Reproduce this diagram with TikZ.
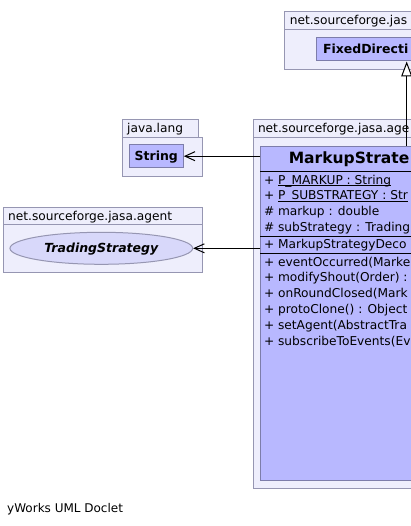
\documentclass[tikz,border=0pt]{standalone}
\usepackage{fontspec}
\setmainfont{DejaVu Sans}
\usepackage{tikz}
\usetikzlibrary{arrows.meta, shapes.geometric, positioning, calc}

\definecolor{pkgfill}{RGB}{238,238,252}
\definecolor{pkgline}{RGB}{150,150,178}
\definecolor{clsfill}{RGB}{184,184,255}
\definecolor{clsline}{RGB}{125,125,170}
\definecolor{ifcfill}{RGB}{216,216,250}

\newcommand{\pkgfont}{\fontsize{12.2}{14}\selectfont}
\newcommand{\memfont}{\fontsize{12.2}{14}\selectfont}
\newcommand{\clsfont}{\fontsize{12.5}{15}\selectfont\bfseries}
\newcommand{\staticfield}[1]{\setbox0\hbox{#1}\rlap{\vrule height -1.1pt depth 2.1pt width \wd0}\box0}

\begin{document}
\begin{tikzpicture}[x=1pt, y=-1pt,
    pkgtab/.style={draw=pkgline, fill=pkgfill, line width=1pt, anchor=north west,
      inner xsep=5pt, inner ysep=2.5pt, text height=10.5pt, text depth=1.9pt, align=left, font=\pkgfont},
    pkgbody/.style={draw=pkgline, fill=pkgfill, line width=1pt, anchor=north west, inner sep=0pt},
    clsbox/.style={draw=clsline, fill=clsfill, line width=1pt, inner sep=0pt, font=\clsfont,
      text height=9.1pt, text depth=0pt},
    member/.style={anchor=base west, inner sep=0pt, font=\memfont},
    sep/.style={line width=1pt},
    uses/.style={line width=1pt, -{Straight Barb[length=10pt, width=9pt]}},
    extends/.style={line width=1pt, -{Triangle[open, fill=white, length=15pt, width=11pt]}}
  ]
    \useasboundingbox (0,0) rectangle (411,526);
    \clip (0,0) rectangle (411,526);

    % Define the points for easier reference
    \coordinate (genx) at (406.7,0);
    \coordinate (sepa) at (0,171.7);
    \coordinate (sepb) at (0,236.7);
    \coordinate (sepc) at (0,253.3);

    % Packages: body first, then the tab with its name
    \node[pkgbody, minimum width=200pt, minimum height=40.2pt] (toppkg) at (284.3,28.8) {};
    \node[pkgtab, text width=190pt] (toptab) at (284.3,11.4) {net.sourceforge.jas};
    \node[pkgbody, minimum width=79.8pt, minimum height=39.5pt] (langpkg) at (121.7,136.7) {};
    \node[pkgtab, text width=66.6pt] (langtab) at (121.7,119.3) {java.lang};
    \node[pkgbody, minimum width=198.8pt, minimum height=48pt] (agentpkg) at (2.7,224.3) {};
    \node[pkgtab, text width=188.8pt] (agenttab) at (2.7,206.9) {net.sourceforge.jasa.agent};
    \node[pkgbody, minimum width=320pt, minimum height=351.3pt] (decpkg) at (252.5,136.7) {};
    \node[pkgtab, text width=310pt] (dectab) at (252.5,119.3) {net.sourceforge.jasa.age};

    % Classes
    \node[clsbox, anchor=north west, minimum width=200pt, minimum height=23.2pt,
      text width=187pt, inner xsep=6.5pt, align=left] (fixed) at (316,37.3) {FixedDirecti};
    \node[clsbox, minimum width=54pt, minimum height=22.4pt] (string) at (156.3,156.2) {String};
    \node[clsbox, ellipse, draw=pkgline, fill=ifcfill, minimum width=182.7pt, minimum height=32pt,
      font=\clsfont\itshape] (trading) at (101.3,248.3) {TradingStrategy};
    \node[clsbox, anchor=north west, minimum width=288pt, minimum height=334.3pt] (decorator) at (260,145.7) {};
    \node[anchor=base west, inner sep=0pt, font=\fontsize{15.5}{18}\selectfont\bfseries] (decname)
      at (288.6,163.5) {MarkupStrate};

    % Compartments of the decorator
    \draw[sep] (decorator.west |- sepa) -- (decorator.east |- sepa);
    \node[member] (f1) at (263.8,184.4) {+ \staticfield{P\_MARKUP : String}};
    \node[member] (f2) at (263.8,199.9) {+ \staticfield{P\_SUBSTRATEGY : Str}};
    \node[member] (f3) at (263.8,215.5) {\# markup : double};
    \node[member] (f4) at (263.8,231.0) {\# subStrategy : Trading};
    \draw[sep] (decorator.west |- sepb) -- (decorator.east |- sepb);
    \node[member] (c1) at (263.8,248.7) {+ MarkupStrategyDeco};
    \draw[sep] (decorator.west |- sepc) -- (decorator.east |- sepc);
    \node[member] (m1) at (263.8,266.1) {+ eventOccurred(Marke};
    \node[member] (m2) at (263.8,281.9) {+ modifyShout(Order) :};
    \node[member] (m3) at (263.8,297.8) {+ onRoundClosed(Mark};
    \node[member] (m4) at (263.8,313.6) {+ protoClone() : Object};
    \node[member] (m5) at (263.8,329.5) {+ setAgent(AbstractTra};
    \node[member] (m6) at (263.8,345.3) {+ subscribeToEvents(Ev};

    % Connectors
    \draw[uses] (decorator.west |- string.east) -- (string.east);
    \draw[uses] (decorator.west |- trading.east) -- (trading.east);
    \draw[extends] (genx |- decorator.north) -- (genx |- fixed.south);

    \node[anchor=base west, inner sep=0pt, font=\fontsize{12}{14}\selectfont] (doclet) at (7,512.2) {yWorks UML Doclet};
\end{tikzpicture}
\end{document}
